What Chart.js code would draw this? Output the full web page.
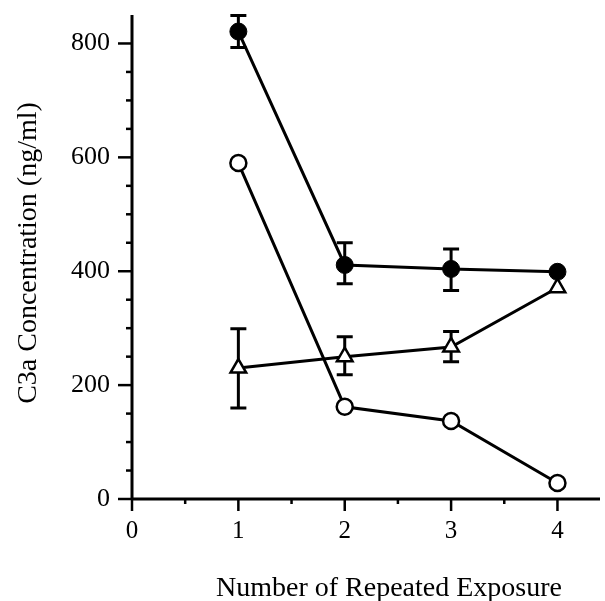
<!DOCTYPE html>
<html>
<head>
<meta charset="utf-8">
<script src="https://cdn.jsdelivr.net/npm/chart.js@4/dist/chart.umd.min.js"></script>
<style>
  html, body { margin: 0; padding: 0; background: #fff; }
  #wrap { width: 605px; height: 601px; }
</style>
</head>
<body>
<div id="wrap"><canvas id="chart" width="605" height="601"></canvas></div>
<script>
'use strict';

// values
const exposures = [1, 2, 3, 4];
const filledMean = [821, 411, 404, 399];
const filledHigh = [849, 450, 439, null];
const filledLow = [793, 378, 366, null];
const openMean = [590, 162, 137, 28];
const triMean = [230, 250, 267, 371];
const triHigh = [299, 285, 294, null];
const triLow = [160, 218, 241, null];
const xTicks = [0, 1, 2, 3, 4];
const yTicks = [0, 200, 400, 600, 800];
const xTitle = 'Number of Repeated Exposure';
const yTitle = 'C3a Concentration (ng/ml)';

const serif = '"Liberation Serif", "Times New Roman", serif';

function points(ys) {
  return exposures.map((x, i) => ({ x: x, y: ys[i] }));
}

let canvasElem = document.getElementById('chart');

// error bars, axes with major/minor ticks, and axis titles
const decorations = {
  id: 'decorations',
  beforeDatasetsDraw(chart) {
    const ctx = chart.ctx;
    const xs = chart.scales.x;
    const ys = chart.scales.y;
    const area = chart.chartArea;
    ctx.save();
    ctx.strokeStyle = '#000';
    ctx.fillStyle = '#000';
    ctx.lineCap = 'butt';

    // error bars
    const bars = [[filledHigh, filledLow], [triHigh, triLow]];
    ctx.lineWidth = 3;
    bars.forEach(([hi, lo]) => {
      exposures.forEach((e, i) => {
        if (hi[i] == null) return;
        const px = xs.getPixelForValue(e);
        const top = ys.getPixelForValue(hi[i]);
        const bot = ys.getPixelForValue(lo[i]);
        ctx.beginPath();
        ctx.moveTo(px, top); ctx.lineTo(px, bot);
        ctx.moveTo(px - 8, top); ctx.lineTo(px + 8, top);
        ctx.moveTo(px - 8, bot); ctx.lineTo(px + 8, bot);
        ctx.stroke();
      });
    });

    // axis lines
    const x0 = xs.getPixelForValue(0);
    const y0 = ys.getPixelForValue(0);
    ctx.lineWidth = 3;
    ctx.beginPath();
    ctx.moveTo(x0, area.top); ctx.lineTo(x0, y0);
    ctx.moveTo(x0, y0); ctx.lineTo(area.right, y0);
    ctx.stroke();

    // y ticks (outside, left)
    ctx.lineWidth = 2.5;
    for (let v = 0; v <= 800; v += 50) {
      const py = ys.getPixelForValue(v);
      const len = v % 200 === 0 ? 14 : 6;
      ctx.beginPath();
      ctx.moveTo(x0 - len, py); ctx.lineTo(x0, py);
      ctx.stroke();
    }
    // x ticks (outside, down)
    for (let v = 0; v <= 4; v += 0.5) {
      const px = xs.getPixelForValue(v);
      const len = Number.isInteger(v) ? 12 : 5;
      ctx.beginPath();
      ctx.moveTo(px, y0); ctx.lineTo(px, y0 + len);
      ctx.stroke();
    }

    // axis titles
    ctx.font = '28px ' + serif;
    ctx.textAlign = 'center';
    ctx.textBaseline = 'alphabetic';
    ctx.fillText(xTitle, 389, 596);
    ctx.translate(36, 253);
    ctx.rotate(-Math.PI / 2);
    ctx.fillText(yTitle, 0, 0);
    ctx.restore();
  }
};

let chartObj = {
  type: 'line',
  data: {
    datasets: [
      {
        label: 'filled',
        data: points(filledMean),
        borderColor: '#000',
        borderWidth: 3,
        backgroundColor: '#000',
        pointStyle: 'circle',
        pointRadius: 8.5,
        pointBorderWidth: 1,
        pointBackgroundColor: '#000',
        pointBorderColor: '#000'
      },
      {
        label: 'open',
        data: points(openMean),
        borderColor: '#000',
        borderWidth: 3,
        pointStyle: 'circle',
        pointRadius: 8,
        pointBorderWidth: 2.5,
        pointBackgroundColor: '#fff',
        pointBorderColor: '#000'
      },
      {
        label: 'triangle',
        data: points(triMean),
        borderColor: '#000',
        borderWidth: 3,
        pointStyle: 'triangle',
        pointRadius: 9,
        pointBorderWidth: 2.5,
        pointBackgroundColor: '#fff',
        pointBorderColor: '#000'
      }
    ]
  },
  options: {
    responsive: false,
    animation: false,
    devicePixelRatio: 1,
    layout: { autoPadding: false, padding: { top: 15, right: 5, left: 0, bottom: 0 } },
    plugins: {
      legend: { display: false },
      tooltip: { enabled: false }
    },
    elements: { line: { tension: 0 } },
    scales: {
      x: {
        type: 'linear',
        min: 0,
        max: 4.4,
        afterBuildTicks: (s) => { s.ticks = xTicks.map(v => ({ value: v })); },
        afterFit: (s) => { s.height = 102; s.paddingLeft = 0; s.paddingRight = 0; },
        grid: { display: false, drawTicks: false },
        border: { display: false },
        ticks: {
          padding: 17,
          color: '#000',
          font: { family: serif, size: 25 },
          maxRotation: 0
        }
      },
      y: {
        min: 0,
        max: 850,
        afterBuildTicks: (s) => { s.ticks = yTicks.map(v => ({ value: v })); },
        afterFit: (s) => { s.width = 132; s.paddingTop = 0; s.paddingBottom = 0; },
        grid: { display: false, drawTicks: false },
        border: { display: false },
        ticks: {
          padding: 22,
          color: '#000',
          font: { family: serif, size: 26 }
        }
      }
    }
  },
  plugins: [decorations]
};

new Chart(canvasElem, chartObj);
</script>
</body>
</html>
